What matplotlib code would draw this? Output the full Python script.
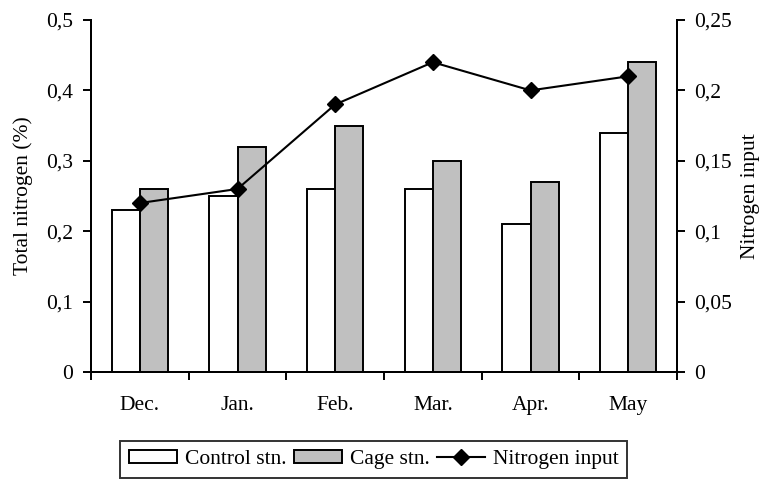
import matplotlib
matplotlib.use("Agg")
import matplotlib.pyplot as plt
import numpy as np
from matplotlib.ticker import FuncFormatter, MultipleLocator

months = ["Dec.", "Jan.", "Feb.", "Mar.", "Apr.", "May"]
control = [0.23, 0.25, 0.26, 0.26, 0.21, 0.34]
cage = [0.26, 0.32, 0.35, 0.30, 0.27, 0.44]
nitrogen = [0.12, 0.13, 0.19, 0.22, 0.20, 0.21]

plt.rcParams['font.family'] = ['Liberation Serif', 'DejaVu Serif']
plt.rcParams['font.size'] = 15.5


def comma(v, pos):
    s = ("%.2f" % v).rstrip("0").rstrip(".")
    return s.replace(".", ",")


fig = plt.figure(figsize=(7.65, 4.79), dpi=100)
ax = fig.add_axes([91 / 765, 1 - 372 / 479, (677 - 91) / 765, (372 - 20) / 479])
ax2 = ax.twinx()

x = np.arange(len(months))
w = 0.287
lw = 1.4
b1 = ax.bar(x - w / 2, control, w, color="white", edgecolor="black", linewidth=lw, label="Control stn.")
b2 = ax.bar(x + w / 2, cage, w, color="#c0c0c0", edgecolor="black", linewidth=lw, label="Cage stn.")
ln, = ax2.plot(x, nitrogen, color="black", linewidth=1.5, marker="D", markersize=8, label="Nitrogen input")

ax.set_xlim(-0.5, len(months) - 0.5)
ax.set_ylim(0, 0.5)
ax2.set_ylim(0, 0.25)
ax.yaxis.set_major_locator(MultipleLocator(0.1))
ax2.yaxis.set_major_locator(MultipleLocator(0.05))
ax.yaxis.set_major_formatter(FuncFormatter(comma))
ax2.yaxis.set_major_formatter(FuncFormatter(comma))

ax.set_xticks(np.arange(len(months) + 1) - 0.5)
ax.set_xticklabels([])
ax.set_xticks(x, minor=True)
ax.set_xticklabels(months, minor=True)
ax.tick_params(axis="x", which="minor", length=0, pad=17)
ax.tick_params(axis="x", which="major", direction="out", length=6, width=lw)
ax.tick_params(axis="y", direction="out", length=6, width=lw, pad=7)
ax2.tick_params(axis="y", direction="out", length=6, width=lw, pad=6)

for a in (ax, ax2):
    a.spines["top"].set_visible(False)
    for s in ("left", "right", "bottom"):
        a.spines[s].set_linewidth(lw)

ax.set_ylabel("Total nitrogen (%)", labelpad=9)
ax2.set_ylabel("Nitrogen input", labelpad=7)

leg = fig.legend([b1, b2, ln], ["Control stn.", "Cage stn.", "Nitrogen input"],
                 ncol=3, loc="upper left", bbox_to_anchor=(120 / 765, 1 - 441 / 479),
                 frameon=True, fancybox=False, edgecolor="black", handlelength=2.25,
                 handleheight=0.6, handletextpad=0.35, columnspacing=0.35,
                 borderpad=0.4, borderaxespad=0)
leg.get_frame().set_linewidth(lw)

fig.savefig("out.png", dpi=100)
